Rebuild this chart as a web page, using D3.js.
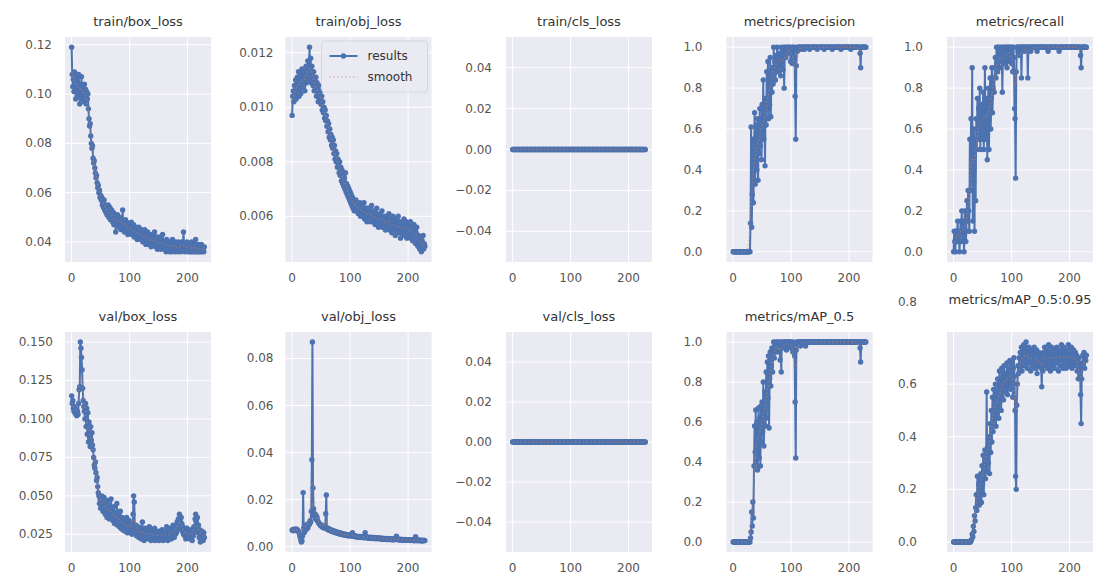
<!DOCTYPE html>
<html><head><meta charset="utf-8">
<script src="https://cdn.jsdelivr.net/npm/d3@7"></script>
<style>
body{margin:0;background:#fff}
svg{display:block}
text{font-family:"DejaVu Sans",sans-serif}
</style>
</head><body>
<svg id="chart" width="1110" height="582"></svg>
<script>
// ---------------- data ----------------
const titles = ["train/box_loss","train/obj_loss","train/cls_loss","metrics/precision","metrics/recall",
                "val/box_loss","val/obj_loss","val/cls_loss","metrics/mAP_0.5","metrics/mAP_0.5:0.95"];
const epochs = d3.range(230);
const xTicks = [0, 100, 200];

const trainBox = [
0.119,0.108,0.103,0.106,0.101,0.109,0.104,0.098,0.107,0.102,
0.105,0.099,0.108,0.103,0.096,0.104,0.100,0.107,0.098,0.103,
0.101,0.097,0.104,0.099,0.102,0.096,0.101,0.098,0.100,0.094,
0.090,0.087,0.088,0.083,0.080,0.078,0.079,0.074,0.072,0.073,
0.070,0.068,0.066,0.067,0.064,0.062,0.063,0.060,0.061,0.058,
0.059,0.057,0.058,0.055,0.056,0.054,0.057,0.053,0.055,0.052,
0.054,0.051,0.053,0.055,0.050,0.052,0.054,0.049,0.051,0.053,
0.050,0.048,0.052,0.047,0.051,0.049,0.044,0.050,0.048,0.051,
0.047,0.049,0.046,0.050,0.048,0.045,0.049,0.047,0.053,0.046,
0.048,0.044,0.047,0.049,0.045,0.048,0.046,0.043,0.047,0.045,
0.047,0.044,0.046,0.048,0.043,0.046,0.044,0.047,0.042,0.045,
0.043,0.046,0.044,0.041,0.045,0.043,0.046,0.042,0.044,0.041,
0.045,0.042,0.044,0.040,0.043,0.041,0.045,0.042,0.039,0.043,
0.041,0.044,0.040,0.042,0.039,0.043,0.041,0.038,0.042,0.040,
0.043,0.039,0.041,0.044,0.040,0.038,0.042,0.040,0.037,0.041,
0.039,0.042,0.038,0.040,0.037,0.041,0.039,0.043,0.038,0.040,
0.037,0.040,0.039,0.036,0.041,0.038,0.040,0.037,0.039,0.036,
0.040,0.038,0.036,0.039,0.041,0.037,0.039,0.038,0.036,0.040,
0.038,0.037,0.039,0.036,0.040,0.038,0.037,0.039,0.036,0.038,
0.040,0.037,0.039,0.044,0.038,0.036,0.039,0.037,0.038,0.040,
0.036,0.038,0.037,0.039,0.036,0.038,0.036,0.040,0.037,0.036,
0.038,0.036,0.039,0.037,0.041,0.036,0.038,0.036,0.037,0.039,
0.036,0.038,0.036,0.037,0.039,0.036,0.037,0.037,0.036,0.038];

const trainObj = [
0.0097,0.0104,0.0106,0.0102,0.0108,0.0105,0.0110,0.0103,0.0107,0.0111,
0.0106,0.0113,0.0104,0.0109,0.0112,0.0105,0.0110,0.0114,0.0107,0.0111,
0.0108,0.0113,0.0106,0.0111,0.0115,0.0109,0.0112,0.0117,0.0110,0.0114,
0.0122,0.0112,0.0118,0.0109,0.0115,0.0111,0.0108,0.0113,0.0106,0.0110,
0.0107,0.0111,0.0104,0.0109,0.0106,0.0102,0.0108,0.0105,0.0103,0.0106,
0.0101,0.0104,0.0099,0.0102,0.0098,0.0100,0.0096,0.0099,0.0095,0.0097,
0.0093,0.0095,0.0091,0.0094,0.0089,0.0092,0.0088,0.0090,0.0086,0.0089,
0.0085,0.0088,0.0083,0.0086,0.0081,0.0084,0.0080,0.0083,0.0078,0.0081,
0.0079,0.0076,0.0080,0.0075,0.0078,0.0073,0.0077,0.0072,0.0075,0.0071,
0.0074,0.0070,0.0076,0.0069,0.0072,0.0068,0.0071,0.0067,0.0070,0.0066,
0.0069,0.0065,0.0068,0.0064,0.0067,0.0063,0.0066,0.0062,0.0065,0.0064,
0.0066,0.0062,0.0065,0.0063,0.0061,0.0064,0.0062,0.0065,0.0060,0.0063,
0.0061,0.0064,0.0060,0.0062,0.0065,0.0059,0.0062,0.0060,0.0063,0.0058,
0.0061,0.0063,0.0059,0.0062,0.0060,0.0058,0.0061,0.0064,0.0059,0.0061,
0.0058,0.0062,0.0060,0.0057,0.0061,0.0059,0.0063,0.0058,0.0060,0.0056,
0.0060,0.0058,0.0061,0.0057,0.0059,0.0062,0.0056,0.0059,0.0057,0.0060,
0.0058,0.0055,0.0059,0.0057,0.0060,0.0056,0.0058,0.0061,0.0055,0.0058,
0.0056,0.0059,0.0054,0.0057,0.0060,0.0055,0.0058,0.0056,0.0053,0.0057,
0.0059,0.0055,0.0057,0.0060,0.0054,0.0058,0.0056,0.0052,0.0057,0.0055,
0.0058,0.0054,0.0056,0.0059,0.0053,0.0057,0.0055,0.0058,0.0052,0.0056,
0.0054,0.0057,0.0053,0.0055,0.0058,0.0052,0.0056,0.0054,0.0051,0.0055,
0.0057,0.0053,0.0055,0.0050,0.0054,0.0056,0.0052,0.0049,0.0053,0.0051,
0.0048,0.0052,0.0050,0.0047,0.0051,0.0049,0.0053,0.0048,0.0050,0.0049];

const trainCls = [
0,0,0,0,0,0,0,0,0,0, 0,0,0,0,0,0,0,0,0,0, 0,0,0,0,0,0,0,0,0,0,
0,0,0,0,0,0,0,0,0,0, 0,0,0,0,0,0,0,0,0,0, 0,0,0,0,0,0,0,0,0,0,
0,0,0,0,0,0,0,0,0,0, 0,0,0,0,0,0,0,0,0,0, 0,0,0,0,0,0,0,0,0,0,
0,0,0,0,0,0,0,0,0,0, 0,0,0,0,0,0,0,0,0,0, 0,0,0,0,0,0,0,0,0,0,
0,0,0,0,0,0,0,0,0,0, 0,0,0,0,0,0,0,0,0,0, 0,0,0,0,0,0,0,0,0,0,
0,0,0,0,0,0,0,0,0,0, 0,0,0,0,0,0,0,0,0,0, 0,0,0,0,0,0,0,0,0,0,
0,0,0,0,0,0,0,0,0,0, 0,0,0,0,0,0,0,0,0,0, 0,0,0,0,0,0,0,0,0,0,
0,0,0,0,0,0,0,0,0,0, 0,0,0,0,0,0,0,0,0,0];

const precision = [
0,0,0,0,0,0,0,0,0,0,
0,0,0,0,0,0,0,0,0,0,
0,0,0,0,0,0,0,0,0.001,0,
0.14,0.61,0.12,0.28,0.55,0.24,0.45,0.68,0.33,0.52,
0.62,0.40,0.65,0.35,0.58,0.48,0.70,0.52,0.63,0.45,
0.72,0.60,0.84,0.55,0.66,0.42,0.75,0.62,0.88,0.70,
0.93,0.65,0.80,0.72,0.95,0.66,0.85,0.78,0.90,0.82,
1.0,0.87,0.93,0.84,0.96,0.90,1.0,0.88,0.95,0.92,
0.97,0.91,0.86,1.0,0.94,0.98,0.89,1.0,0.80,0.96,
1.0,0.95,0.99,1.0,0.97,1.0,0.98,1.0,0.99,0.93,
1.0,0.97,0.92,1.0,0.99,1.0,0.95,0.76,0.55,0.91,
1.0,0.98,1.0,1.0,0.99,1.0,1.0,1.0,1.0,0.99,
1,1,1,0.99,1,1,1,1,1,1,
1,1,0.99,1,1,1,1,1,1,1,
1,1,1,1,1,0.99,1,1,1,1,
1,1,1,1,1,1,1,0.99,1,1,
1,1,1,1,1,1,1,1,1,1,
1,0.99,1,1,1,1,1,1,1,1,
1,1,1,1,1,1,0.99,1,1,1,
1,1,1,1,1,1,1,1,1,1,
1,1,1,0.99,1,1,1,1,1,1,
1,1,1,1,1,1,1,1,1,0.97,
0.90,1,1,1,1,1,1,1,1,1];

const recall = [
0,0.1,0.05,0,0.1,0.05,0.1,0.15,0.05,0.1,
0,0.05,0.15,0.1,0.2,0.05,0.15,0.1,0,0.2,
0.15,0.05,0.1,0.25,0.15,0.3,0.2,0.1,0.55,0.3,
0.65,0.45,0.9,0.15,0.35,0.6,0.1,0.55,0.25,0.65,
0.5,0.75,0.6,0.7,0.55,0.8,0.5,0.65,0.72,0.55,
0.6,0.78,0.5,0.68,0.9,0.55,0.62,0.75,0.45,0.7,
0.8,0.5,0.72,0.85,0.6,0.75,0.9,0.68,0.8,0.85,
0.78,0.9,0.95,0.85,1.0,0.92,0.88,1.0,0.95,0.9,
1.0,0.97,0.93,1.0,0.78,0.95,1.0,0.98,0.92,1.0,
0.95,1.0,0.9,1.0,0.97,1.0,0.93,1.0,0.98,1.0,
0.92,1.0,0.88,1.0,0.95,0.7,0.65,0.36,0.88,1.0,
1.0,0.98,1.0,1.0,0.96,1.0,1.0,0.85,1.0,1.0,
1,1,0.98,1,1,1,1,1,0.85,1,
1,1,1,0.98,1,1,1,1,1,1,
1,1,1,1,0.98,1,1,1,1,1,
1,1,1,1,1,1,1,1,1,1,
1,1,1,0.98,1,1,1,1,1,1,
1,1,1,1,1,1,1,1,1,1,
1,1,0.98,1,1,1,1,1,1,1,
1,1,1,1,1,1,1,1,1,1,
1,1,1,1,1,1,1,1,1,1,
1,1,1,1,1,1,1,1,1,0.96,
0.90,1,1,1,1,1,1,1,1,1];

const valBox = [
0.115,0.110,0.112,0.107,0.105,0.108,0.104,0.103,0.106,0.102,
0.105,0.103,0.110,0.119,0.121,0.150,0.146,0.140,0.132,0.120,
0.112,0.108,0.105,0.100,0.110,0.095,0.107,0.090,0.104,0.085,
0.098,0.088,0.082,0.095,0.086,0.091,0.083,0.080,0.075,0.070,
0.068,0.072,0.065,0.060,0.062,0.056,0.052,0.050,0.045,0.048,
0.042,0.047,0.050,0.044,0.040,0.046,0.049,0.043,0.038,0.045,
0.041,0.036,0.044,0.047,0.039,0.035,0.042,0.038,0.048,0.036,
0.040,0.034,0.037,0.043,0.032,0.036,0.039,0.033,0.045,0.031,
0.035,0.038,0.030,0.034,0.040,0.029,0.033,0.036,0.028,0.032,
0.035,0.030,0.027,0.033,0.029,0.036,0.026,0.031,0.028,0.034,
0.030,0.026,0.029,0.032,0.025,0.028,0.038,0.050,0.046,0.030,
0.027,0.031,0.024,0.028,0.026,0.030,0.023,0.027,0.025,0.029,
0.022,0.026,0.033,0.024,0.028,0.021,0.025,0.029,0.023,0.026,
0.024,0.028,0.022,0.025,0.030,0.023,0.027,0.021,0.025,0.028,
0.022,0.026,0.024,0.029,0.021,0.025,0.023,0.027,0.022,0.026,
0.024,0.021,0.027,0.023,0.025,0.022,0.028,0.024,0.021,0.026,
0.023,0.027,0.022,0.025,0.030,0.024,0.021,0.026,0.028,0.023,
0.025,0.029,0.022,0.027,0.024,0.031,0.026,0.023,0.028,0.025,
0.030,0.026,0.033,0.028,0.035,0.031,0.038,0.034,0.029,0.036,
0.032,0.027,0.030,0.025,0.028,0.024,0.027,0.022,0.026,0.029,
0.024,0.027,0.023,0.026,0.022,0.025,0.028,0.023,0.021,0.026,
0.024,0.030,0.027,0.035,0.038,0.033,0.029,0.036,0.026,0.031,
0.023,0.028,0.020,0.025,0.022,0.027,0.024,0.021,0.026,0.023];

const valObj = [
0.0070,0.0072,0.0068,0.0074,0.0071,0.0069,0.0073,0.0075,0.0070,0.0072,
0.0068,0.0065,0.0060,0.0050,0.0040,0.0030,0.0020,0.0025,0.0045,0.0230,
0.0080,0.0060,0.0090,0.0070,0.0085,0.0075,0.0095,0.0080,0.0090,0.0100,
0.0095,0.0110,0.0105,0.0150,0.0370,0.0870,0.0250,0.0160,0.0130,0.0140,
0.0120,0.0135,0.0115,0.0125,0.0110,0.0105,0.0100,0.0098,0.0095,0.0090,
0.0088,0.0092,0.0085,0.0082,0.0087,0.0080,0.0083,0.0078,0.0140,0.0220,
0.0075,0.0080,0.0072,0.0077,0.0070,0.0074,0.0068,0.0071,0.0066,0.0070,
0.0064,0.0068,0.0062,0.0066,0.0060,0.0065,0.0059,0.0063,0.0057,0.0061,
0.0056,0.0060,0.0054,0.0058,0.0053,0.0057,0.0052,0.0055,0.0051,0.0054,
0.0050,0.0053,0.0049,0.0052,0.0048,0.0051,0.0047,0.0050,0.0046,0.0049,
0.0047,0.0050,0.0045,0.0048,0.0060,0.0046,0.0044,0.0047,0.0043,0.0046,
0.0042,0.0045,0.0041,0.0044,0.0040,0.0043,0.0041,0.0044,0.0039,0.0042,
0.0040,0.0043,0.0039,0.0041,0.0038,0.0042,0.0060,0.0040,0.0038,0.0041,
0.0037,0.0040,0.0038,0.0036,0.0039,0.0037,0.0040,0.0036,0.0038,0.0035,
0.0038,0.0036,0.0039,0.0035,0.0037,0.0034,0.0038,0.0036,0.0035,0.0037,
0.0036,0.0034,0.0037,0.0033,0.0035,0.0032,0.0036,0.0034,0.0033,0.0035,
0.0032,0.0034,0.0031,0.0035,0.0033,0.0030,0.0034,0.0032,0.0031,0.0033,
0.0030,0.0032,0.0034,0.0031,0.0029,0.0033,0.0030,0.0032,0.0035,0.0031,
0.0045,0.0032,0.0030,0.0033,0.0029,0.0031,0.0028,0.0032,0.0030,0.0029,
0.0031,0.0028,0.0030,0.0027,0.0029,0.0031,0.0028,0.0030,0.0027,0.0029,
0.0028,0.0030,0.0027,0.0029,0.0026,0.0028,0.0030,0.0027,0.0029,0.0026,
0.0028,0.0025,0.0027,0.0042,0.0029,0.0026,0.0028,0.0025,0.0027,0.0029,
0.0026,0.0028,0.0025,0.0027,0.0024,0.0026,0.0028,0.0025,0.0027,0.0026];

const valCls = [
0,0,0,0,0,0,0,0,0,0, 0,0,0,0,0,0,0,0,0,0, 0,0,0,0,0,0,0,0,0,0,
0,0,0,0,0,0,0,0,0,0, 0,0,0,0,0,0,0,0,0,0, 0,0,0,0,0,0,0,0,0,0,
0,0,0,0,0,0,0,0,0,0, 0,0,0,0,0,0,0,0,0,0, 0,0,0,0,0,0,0,0,0,0,
0,0,0,0,0,0,0,0,0,0, 0,0,0,0,0,0,0,0,0,0, 0,0,0,0,0,0,0,0,0,0,
0,0,0,0,0,0,0,0,0,0, 0,0,0,0,0,0,0,0,0,0, 0,0,0,0,0,0,0,0,0,0,
0,0,0,0,0,0,0,0,0,0, 0,0,0,0,0,0,0,0,0,0, 0,0,0,0,0,0,0,0,0,0,
0,0,0,0,0,0,0,0,0,0, 0,0,0,0,0,0,0,0,0,0, 0,0,0,0,0,0,0,0,0,0,
0,0,0,0,0,0,0,0,0,0, 0,0,0,0,0,0,0,0,0,0];

const mAP50 = [
0,0,0,0,0,0,0,0,0,0,
0,0,0,0,0,0,0,0,0,0,
0,0,0,0,0,0,0,0,0,0,
0.02,0.05,0.15,0.08,0.20,0.12,0.38,0.58,0.45,0.66,
0.40,0.60,0.36,0.55,0.67,0.42,0.62,0.38,0.68,0.50,
0.70,0.55,0.80,0.48,0.65,0.75,0.58,0.85,0.62,0.90,
0.72,0.93,0.57,0.82,0.95,0.78,0.88,0.97,0.85,0.94,
1.0,0.92,0.98,0.96,1.0,0.99,0.95,1.0,0.98,0.99,
1.0,0.91,0.99,0.85,1.0,0.97,0.99,1.0,0.98,1.0,
0.99,1.0,0.96,1.0,0.99,1.0,0.98,1.0,0.99,1.0,
0.97,1.0,0.99,0.95,1.0,0.99,0.93,0.70,0.42,0.96,
1.0,0.99,1.0,1.0,0.995,1.0,0.98,1.0,1.0,0.99,
1,1,1,1,1,0.98,1,1,1,1,
1,1,1,1,1,1,1,1,1,1,
1,1,1,1,1,1,1,1,1,1,
1,1,1,1,1,1,1,1,1,1,
1,1,1,1,1,1,1,1,1,1,
1,1,1,1,1,1,1,1,1,1,
1,1,1,1,1,1,1,1,1,1,
1,1,1,1,1,1,1,1,1,1,
1,1,1,1,1,1,1,1,1,1,
1,1,1,1,1,1,1,1,1,0.97,
0.90,1,1,1,1,1,1,1,1,1];

const mAP5095 = [
0,0,0,0,0,0,0,0,0,0,
0,0,0,0,0,0,0,0,0,0,
0,0,0,0,0,0,0,0,0,0,
0.005,0.01,0.03,0.02,0.06,0.04,0.10,0.08,0.13,0.18,
0.12,0.25,0.16,0.22,0.14,0.24,0.19,0.26,0.15,0.29,
0.22,0.33,0.18,0.28,0.35,0.24,0.31,0.57,0.27,0.36,
0.30,0.40,0.26,0.45,0.34,0.50,0.38,0.55,0.42,0.58,
0.46,0.52,0.60,0.44,0.56,0.49,0.62,0.53,0.47,0.65,
0.55,0.60,0.50,0.66,0.58,0.63,0.54,0.67,0.61,0.57,
0.64,0.59,0.68,0.56,0.62,0.66,0.60,0.69,0.58,0.65,
0.62,0.68,0.55,0.66,0.70,0.63,0.50,0.25,0.20,0.52,
0.60,0.67,0.64,0.70,0.66,0.72,0.68,0.74,0.65,0.71,
0.69,0.75,0.71,0.67,0.73,0.76,0.70,0.66,0.72,0.69,
0.74,0.68,0.71,0.65,0.73,0.70,0.67,0.72,0.69,0.74,
0.66,0.71,0.68,0.73,0.64,0.70,0.67,0.72,0.69,0.68,
0.71,0.66,0.59,0.69,0.65,0.72,0.68,0.74,0.67,0.70,
0.73,0.69,0.66,0.71,0.75,0.68,0.72,0.65,0.70,0.74,
0.67,0.71,0.69,0.73,0.66,0.70,0.72,0.68,0.74,0.69,
0.71,0.65,0.73,0.70,0.67,0.72,0.75,0.69,0.71,0.66,
0.74,0.70,0.68,0.72,0.66,0.71,0.73,0.69,0.75,0.67,
0.70,0.72,0.68,0.74,0.66,0.71,0.69,0.73,0.67,0.70,
0.72,0.68,0.71,0.65,0.70,0.62,0.70,0.66,0.68,0.56,
0.45,0.62,0.67,0.71,0.68,0.72,0.66,0.70,0.69,0.71];

// y tick labels per subplot
const yTicks = [
  [0.04,0.06,0.08,0.10,0.12],
  [0.006,0.008,0.010,0.012],
  [-0.04,-0.02,0.00,0.02,0.04],
  [0.0,0.2,0.4,0.6,0.8,1.0],
  [0.0,0.2,0.4,0.6,0.8,1.0],
  [0.025,0.050,0.075,0.100,0.125,0.150],
  [0.00,0.02,0.04,0.06,0.08],
  [-0.04,-0.02,0.00,0.02,0.04],
  [0.0,0.2,0.4,0.6,0.8,1.0],
  [0.0,0.2,0.4,0.6,0.8]
];
const yDecimals = [2,3,2,1,1,3,2,2,1,1];
const legendLabels = ["results","smooth"];

// ---------------- layout / style ----------------
const series = [trainBox,trainObj,trainCls,precision,recall,valBox,valObj,valCls,mAP50,mAP5095];
const colLeft = [65, 285.5, 506, 726.5, 947];
const plotW = 146;
const rowTop = [37, 332];
const rowH = [225, 220];
const labelGap = [13,12,14,24,24, 12,12,14,24,30];
const BLUE = "#4C72B0", ORANGE = "#DD8452", BG = "#EAEAF2";

function gaussSmooth(y, sigma){
  const r = Math.round(4*sigma), w = [];
  let s = 0;
  for(let k=-r;k<=r;k++){ const v = Math.exp(-0.5*k*k/(sigma*sigma)); w.push(v); s+=v; }
  const n = y.length;
  const idx = i => { while(i<0||i>=n){ if(i<0) i = -i-1; if(i>=n) i = 2*n-i-1; } return i; };
  return y.map((_,i)=>{ let a=0; for(let k=-r;k<=r;k++) a += w[k+r]*y[idx(i+k)]; return a/s; });
}

const svg = d3.select("#chart");
svg.append("rect").attr("width",1110).attr("height",582).attr("fill","#fff");
const overflow = [];

series.forEach((ys,i)=>{
  const row = Math.floor(i/5), col = i%5;
  const W = plotW, H = rowH[row];
  const g = svg.append("g").attr("transform",`translate(${colLeft[col]},${rowTop[row]})`);
  const n = ys.length;
  const x = d3.scaleLinear().domain([-(n-1)*0.05,(n-1)*1.05]).range([0,W]);
  const lo = d3.min(ys), hi = d3.max(ys);
  let dom;
  if(hi-lo < 1e-12){ dom = [lo-0.055, hi+0.055]; }
  else { const m = (hi-lo)*0.05; dom = [lo-m, hi+m]; }
  const y = d3.scaleLinear().domain(dom).range([H,0]);

  g.append("rect").attr("width",W).attr("height",H).attr("fill",BG);

  const yIn = yTicks[i].filter(t=>t>=dom[0]-1e-9 && t<=dom[1]+1e-9);
  g.append("g").selectAll("line").data(yIn).join("line")
    .attr("x1",0).attr("x2",W).attr("y1",d=>y(d)).attr("y2",d=>y(d))
    .attr("stroke","#fff").attr("stroke-width",1);
  g.append("g").selectAll("line").data(xTicks).join("line")
    .attr("y1",0).attr("y2",H).attr("x1",d=>x(d)).attr("x2",d=>x(d))
    .attr("stroke","#fff").attr("stroke-width",1);

  const dec = yDecimals[i];
  const fmt = v => {
    if(Math.abs(v) < 1e-12) return (0).toFixed(dec);
    const s = Math.abs(v).toFixed(dec);
    return v < 0 ? "\u2212"+s : s;
  };
  yTicks[i].forEach(t => {
    if(t > dom[1] + 1e-9){
      overflow.push({x: colLeft[col]-labelGap[i], y: rowTop[row]-30, s: fmt(t)});
    } else {
      g.append("text").attr("x",-labelGap[i]).attr("y",y(t))
        .attr("text-anchor","end").attr("dominant-baseline","central")
        .attr("font-size",12).attr("fill","#555").text(fmt(t));
    }
  });
  g.append("g").selectAll("text").data(xTicks).join("text")
    .attr("x",d=>x(d)).attr("y",H+20).attr("text-anchor","middle")
    .attr("font-size",12).attr("fill","#555").text(d=>d);

  g.append("text").attr("x",W/2).attr("y", i===9 ? -28 : -11)
    .attr("text-anchor","middle").attr("font-size",13).attr("fill","#333").text(titles[i]);

  const pts = epochs.map((e,k)=>[e,ys[k]]);
  const line = d3.line().x(d=>x(d[0])).y(d=>y(d[1]));
  g.append("path").attr("d",line(pts)).attr("fill","none").attr("stroke",BLUE)
    .attr("stroke-width",2).attr("stroke-linejoin","round");
  g.append("g").selectAll("circle").data(pts).join("circle")
    .attr("cx",d=>x(d[0])).attr("cy",d=>y(d[1])).attr("r",2.7).attr("fill",BLUE);
  const sm = gaussSmooth(ys,3);
  g.append("path").attr("d",line(epochs.map((e,k)=>[e,sm[k]]))).attr("fill","none")
    .attr("stroke",ORANGE).attr("stroke-opacity",0.55).attr("stroke-width",1.3)
    .attr("stroke-dasharray","1.3,2.6");

  if(i===1){
    const lg = g.append("g").attr("transform",`translate(${W-110},4)`);
    lg.append("rect").attr("width",106).attr("height",51).attr("rx",3)
      .attr("fill","#EAEAF2").attr("fill-opacity",0.85).attr("stroke","#d6d6de");
    lg.append("line").attr("x1",8).attr("x2",36).attr("y1",15).attr("y2",15)
      .attr("stroke",BLUE).attr("stroke-width",2);
    lg.append("circle").attr("cx",22).attr("cy",15).attr("r",2.7).attr("fill",BLUE);
    lg.append("line").attr("x1",8).attr("x2",36).attr("y1",36).attr("y2",36)
      .attr("stroke",ORANGE).attr("stroke-opacity",0.55).attr("stroke-width",1.3)
      .attr("stroke-dasharray","1.3,2.6");
    lg.append("text").attr("x",46).attr("y",15).attr("dominant-baseline","central")
      .attr("font-size",12).attr("fill","#333").text(legendLabels[0]);
    lg.append("text").attr("x",46).attr("y",36).attr("dominant-baseline","central")
      .attr("font-size",12).attr("fill","#333").text(legendLabels[1]);
  }
});

// tick labels that sit above their axes (as in the reference)
overflow.forEach(o => {
  svg.append("text").attr("x",o.x).attr("y",o.y)
    .attr("text-anchor","end").attr("dominant-baseline","central")
    .attr("font-size",12).attr("fill","#555").text(o.s);
});
</script>
</body></html>
